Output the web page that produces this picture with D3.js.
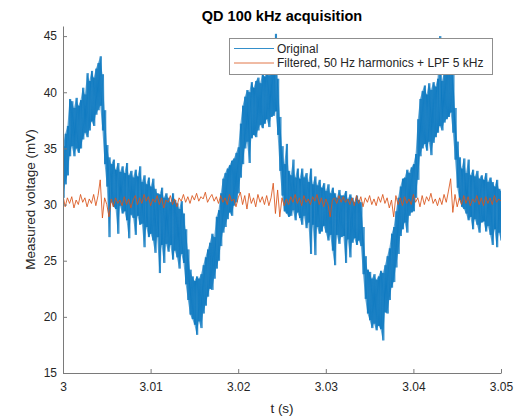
<!DOCTYPE html>
<html>
<head>
<meta charset="utf-8">
<script src="https://cdn.jsdelivr.net/npm/d3@7"></script>
<style>
  body { margin: 0; background: #fff; }
  text { font-family: "Liberation Sans", Arial, Helvetica, sans-serif; }
</style>
</head>
<body>
<svg id="chart"></svg>
<script>
// sampling of the stored traces (s)
const t0 = 3.0;
const tStep = 0.00025;

const xTicks = [3, 3.01, 3.02, 3.03, 3.04, 3.05];
const yTicks = [15, 20, 25, 30, 35, 40, 45];

// Original signal: upper / lower edge of the noise band per sample (mV)
const originalHi = [
  35.2, 36.3, 37.0, 39.4,  39.2, 38.6, 39.5, 38.8,  39.3, 40.4, 39.8, 41.7,  41.0, 41.9, 41.3, 42.1,
  42.6, 43.2, 41.6, 38.4,  35.3, 34.2, 33.6, 34.0,  33.1, 33.7, 32.9, 33.4,  32.8, 33.7, 32.6, 33.0,
  32.4, 33.1, 32.5, 33.4,  32.0, 32.6, 31.8, 32.4,  31.6, 32.3, 31.4, 31.0,  30.9, 31.5, 30.6, 31.0,
  30.6, 30.2, 31.0, 30.4,  30.1, 29.6, 30.3, 29.2,  27.8, 26.0, 24.2, 23.6,  23.2, 23.6, 23.4, 23.8,
  24.6, 25.3, 26.0, 26.6,  27.4, 27.1, 28.9, 29.5,  31.0, 32.3, 32.8, 33.2,  33.5, 33.9, 34.1, 34.6,
  35.1, 37.2, 38.8, 39.6,  40.2, 40.0, 40.9, 40.4,  41.0, 41.3, 40.8, 41.6,  41.4, 41.9, 41.5, 42.4,
  42.8, 45.2, 41.2, 37.8,  35.2, 33.6, 35.4, 33.0,  32.6, 34.0, 32.4, 33.2,  32.3, 33.2, 32.4, 32.8,
  32.0, 33.2, 31.8, 32.5,  31.7, 32.2, 31.5, 31.9,  31.2, 31.8, 31.0, 31.5,  31.0, 30.6, 31.3, 30.8,
  30.8, 31.2, 30.5, 30.9,  30.6, 30.2, 30.8, 30.4,  30.2, 28.0, 25.4, 24.2,  24.0, 23.4, 23.8, 23.3,
  23.6, 24.1, 23.9, 24.6,  25.4, 26.1, 27.4, 28.0,  29.4, 30.6, 31.6, 32.3,  32.4, 33.1, 32.8, 33.3,
  33.6, 34.5, 37.6, 39.4,  40.1, 40.6, 39.8, 40.8,  40.2, 40.9, 40.5, 41.2,  45.0, 41.0, 41.8, 42.3,
  42.6, 43.6, 41.8, 38.6,  35.6, 34.2, 33.2, 34.1,  32.8, 34.0, 32.6, 33.1,  32.5, 33.0, 32.3, 32.6,
  32.2, 32.8, 32.0, 32.4,  32.0, 31.6, 32.2, 31.4,  31.2
];
const originalLo = [
  30.6, 31.8, 32.6, 34.3,  35.2, 34.3, 35.0, 34.6,  35.0, 35.8, 36.4, 36.0,  36.6, 37.4, 37.0, 38.0,
  38.4, 38.8, 36.6, 33.6,  31.6, 27.1, 30.2, 29.8,  29.6, 27.4, 29.9, 29.2,  29.4, 28.6, 27.0, 29.1,
  28.8, 27.3, 29.0, 28.2,  28.3, 26.2, 28.0, 27.1,  27.4, 26.8, 25.7, 27.1,  23.9, 26.4, 24.8, 26.5,
  25.8, 26.4, 25.1, 25.9,  25.3, 24.3, 25.6, 24.8,  22.9, 21.5, 20.2, 19.8,  19.3, 18.4, 19.6, 19.0,
  20.3, 21.0, 21.8, 22.5,  22.4, 23.4, 24.3, 25.0,  26.3, 27.5, 28.0, 28.7,  29.3, 29.0, 29.9, 30.2,
  31.0, 32.4, 33.6, 35.0,  35.6, 33.7, 35.9, 36.2,  36.0, 36.6, 37.1, 36.8,  37.2, 37.6, 36.9, 37.8,
  37.9, 38.3, 36.2, 33.0,  30.8, 29.4, 29.2, 28.9,  29.0, 29.5, 28.6, 29.3,  28.8, 28.2, 29.0, 27.9,
  28.4, 25.6, 28.2, 25.5,  28.0, 27.4, 27.6, 28.1,  27.5, 26.8, 27.3, 25.9,  24.6, 27.3, 26.5, 27.1,
  27.2, 24.8, 26.9, 25.3,  26.6, 27.0, 26.4, 26.8,  26.3, 23.8, 21.6, 20.3,  19.7, 19.0, 19.4, 18.8,
  19.2, 18.9, 17.9, 20.4,  20.3, 21.5, 22.6, 23.1,  24.4, 25.6, 27.2, 27.8,  28.4, 27.5, 29.0, 29.3,
  29.4, 30.6, 32.2, 34.3,  35.0, 35.4, 34.8, 35.6,  34.4, 35.5, 36.0, 36.4,  37.0, 36.6, 37.3, 37.6,
  37.8, 38.2, 36.4, 34.0,  31.5, 30.4, 29.8, 29.6,  29.2, 28.6, 28.9, 27.8,  28.7, 28.2, 27.5, 28.4,
  28.5, 27.6, 28.1, 27.3,  26.4, 27.8, 26.2, 27.5,  26.8
];

// Filtered signal (mV)
const filtered = [
  30.8, 29.8, 30.6, 30.1,  30.7, 29.7, 30.4, 30.0,  30.9, 30.2, 30.6, 29.8,  30.5, 30.1, 30.9, 29.9,
  30.8, 32.2, 28.8, 30.6,  30.0, 28.9, 30.5, 29.8,  30.6, 30.1, 30.4, 29.9,  30.7, 30.0, 30.5, 29.7,
  30.4, 30.8, 30.0, 30.6,  30.1, 30.9, 30.3, 30.7,  29.9, 30.5, 30.2, 30.8,  30.0, 30.6, 29.7, 30.4,
  30.2, 30.8, 30.0, 30.5,  29.8, 30.6, 30.3, 30.9,  30.2, 30.7, 30.1, 30.8,  30.4, 31.0, 30.3, 30.7,
  30.5, 31.1, 30.2, 30.6,  30.9, 30.3, 30.7, 30.1,  30.8, 30.2, 30.6, 30.0,  30.9, 30.3, 30.5, 29.8,
  30.6, 31.1, 30.0, 30.8,  29.6, 31.0, 30.1, 30.6,  29.8, 30.9, 30.2, 30.7,  30.0, 30.8, 29.9, 30.6,
  31.9, 29.2, 31.3, 28.9,  30.6, 29.9, 30.5, 30.0,  30.7, 30.2, 30.9, 30.1,  30.6, 29.9, 30.8, 30.2,
  30.5, 30.0, 30.7, 30.3,  30.9, 30.0, 30.6, 29.8,  30.5, 30.0, 28.9, 30.4,  30.6, 30.1, 30.8, 30.2,
  30.7, 30.2, 30.5, 30.0,  30.6, 29.9, 30.8, 30.1,  30.7, 29.8, 30.6, 30.2,  30.8, 30.0, 30.5, 29.9,
  30.7, 30.2, 30.9, 30.1,  30.6, 29.7, 30.4, 28.9,  30.8, 30.0, 30.6, 29.9,  30.7, 30.1, 30.5, 30.0,
  30.9, 30.2, 30.6, 29.8,  30.8, 30.0, 30.7, 30.3,  31.0, 30.1, 30.5, 29.9,  30.6, 30.0, 30.9, 30.2,
  31.2, 32.3, 29.3, 30.9,  29.8, 30.6, 30.0, 30.8,  30.1, 30.7, 29.9, 30.5,  30.2, 30.8, 30.0, 30.6,
  29.9, 30.7, 30.1, 30.6,  30.0, 30.8, 30.2, 30.5,  30.3
];

const seriesNames = ["Original", "Filtered, 50 Hz harmonics + LPF 5 kHz"];
const seriesColors = ["#0072BD", "#D95319"];

const width = 521, height = 416;
const margin = { top: 26, right: 20, bottom: 43, left: 63 };
const innerW = width - margin.left - margin.right;
const innerH = height - margin.top - margin.bottom;

const svg = d3.select("#chart")
    .attr("width", width)
    .attr("height", height)
    .style("background", "#fff");

const x = d3.scaleLinear().domain([3, 3.05]).range([0, innerW]);
const y = d3.scaleLinear().domain([15, 45.9]).range([innerH, 0]);

const chart = svg.append("g")
    .attr("transform", `translate(${margin.left},${margin.top})`);

svg.append("defs").append("clipPath").attr("id", "plotClip")
  .append("rect").attr("width", innerW).attr("height", innerH);

// original trace: band between the edges + crossing strokes edge to edge
const bandPts = originalHi.map((hi, i) => ({ t: t0 + i * tStep, lo: originalLo[i], hi: hi }));
const upPts = [], downPts = [];
bandPts.forEach((d, i) => {
  upPts.push([d.t, d.lo], [d.t + tStep / 2, d.hi]);
  downPts.push([d.t, d.hi], [d.t + tStep / 2, d.lo]);
});
const filtPts = filtered.map((v, i) => [t0 + i * tStep, v]);

const line = d3.line().x(d => x(d[0])).y(d => y(d[1]));
const band = d3.area().x(d => x(d.t)).y0(d => y(d.lo)).y1(d => y(d.hi));

const plot = chart.append("g").attr("clip-path", "url(#plotClip)");
plot.append("path")
    .datum(bandPts)
    .attr("d", band)
    .attr("fill", seriesColors[0])
    .attr("fill-opacity", 0.6);
[upPts, downPts].forEach(pts => {
  plot.append("path")
      .datum(pts)
      .attr("d", line)
      .attr("fill", "none")
      .attr("stroke", seriesColors[0])
      .attr("stroke-width", 0.6)
      .attr("stroke-linejoin", "round");
});
plot.append("path")
    .datum(filtPts)
    .attr("d", line)
    .attr("fill", "none")
    .attr("stroke", seriesColors[1])
    .attr("stroke-width", 0.85)
    .attr("stroke-linejoin", "round");

// axes, ticks pointing inward like MATLAB
const xAxis = d3.axisBottom(x).tickValues(xTicks).tickFormat(d => String(d))
    .tickSizeInner(-4).tickSizeOuter(0).tickPadding(9);
const yAxis = d3.axisLeft(y).tickValues(yTicks).tickFormat(d => String(d))
    .tickSizeInner(-4).tickSizeOuter(0).tickPadding(6);

const gx = chart.append("g").attr("transform", `translate(0,${innerH})`).call(xAxis);
const gy = chart.append("g").call(yAxis);
[gx, gy].forEach(g => {
  g.select(".domain").attr("stroke", "#7a7a7a");
  g.selectAll(".tick line").attr("stroke", "#7a7a7a");
  g.selectAll(".tick text")
      .attr("fill", "#262626")
      .style("font-size", "12px")
      .style("font-family", "'Liberation Sans', Arial, sans-serif");
});

// title and labels
svg.append("text")
    .attr("x", margin.left + innerW / 2)
    .attr("y", 21)
    .attr("text-anchor", "middle")
    .style("font-size", "14.5px")
    .style("font-weight", "bold")
    .attr("fill", "#000")
    .text("QD 100 kHz acquisition");

svg.append("text")
    .attr("x", margin.left + innerW / 2)
    .attr("y", 413)
    .attr("text-anchor", "middle")
    .style("font-size", "13.5px")
    .attr("fill", "#262626")
    .text("t (s)");

svg.append("text")
    .attr("transform", `translate(35,${margin.top + innerH / 2}) rotate(-90)`)
    .attr("text-anchor", "middle")
    .style("font-size", "13.5px")
    .attr("fill", "#262626")
    .text("Measured voltage (mV)");

// legend
const legend = svg.append("g").attr("transform", "translate(229,38)");
legend.append("rect")
    .attr("x", 0.5).attr("y", 0.5)
    .attr("width", 263).attr("height", 36)
    .attr("fill", "#fff")
    .attr("stroke", "#8f8f8f");
seriesNames.forEach((name, i) => {
  const yy = 10.5 + i * 14.5;
  legend.append("line")
      .attr("x1", 5).attr("x2", 45)
      .attr("y1", yy).attr("y2", yy)
      .attr("stroke", seriesColors[i])
      .attr("stroke-width", 0.8);
  legend.append("text")
      .attr("x", 48).attr("y", yy)
      .attr("dy", "0.35em")
      .style("font-size", "12px")
      .attr("fill", "#262626")
      .text(name);
});
</script>
</body>
</html>
